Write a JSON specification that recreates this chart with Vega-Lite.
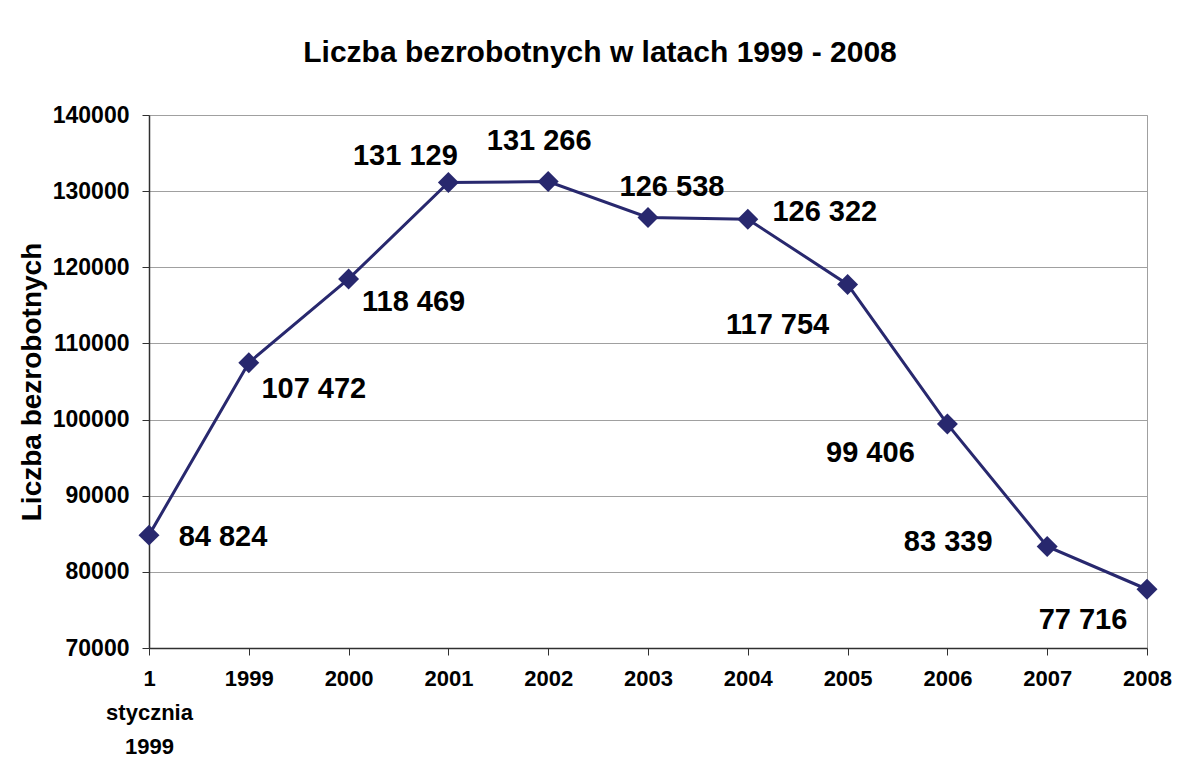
{
  "$schema": "https://vega.github.io/schema/vega-lite/v6.json",
  "width": 998,
  "height": 533,
  "autosize": {"type": "none"},
  "padding": {"left": 149, "top": 115, "right": 35, "bottom": 114},
  "background": "white",
  "config": {
    "font": "Liberation Sans",
    "view": {"stroke": "#a0a0a0", "strokeWidth": 1},
    "axis": {"labelFont": "Liberation Sans", "titleFont": "Liberation Sans"}
  },
  "title": {
    "text": "Liczba bezrobotnych w latach 1999 - 2008",
    "font": "Liberation Sans",
    "fontSize": 30,
    "fontWeight": "bold",
    "color": "black",
    "anchor": "middle",
    "frame": "group",
    "baseline": "alphabetic",
    "dx": -48,
    "offset": 12
  },
  "data": {
    "values": [
      {"okres": "1 stycznia 1999", "bezrobotni": 84824, "etykieta": "84 824"},
      {"okres": "1999", "bezrobotni": 107472, "etykieta": "107 472"},
      {"okres": "2000", "bezrobotni": 118469, "etykieta": "118 469"},
      {"okres": "2001", "bezrobotni": 131129, "etykieta": "131 129"},
      {"okres": "2002", "bezrobotni": 131266, "etykieta": "131 266"},
      {"okres": "2003", "bezrobotni": 126538, "etykieta": "126 538"},
      {"okres": "2004", "bezrobotni": 126322, "etykieta": "126 322"},
      {"okres": "2005", "bezrobotni": 117754, "etykieta": "117 754"},
      {"okres": "2006", "bezrobotni": 99406, "etykieta": "99 406"},
      {"okres": "2007", "bezrobotni": 83339, "etykieta": "83 339"},
      {"okres": "2008", "bezrobotni": 77716, "etykieta": "77 716"}
    ]
  },
  "encoding": {
    "x": {
      "field": "okres",
      "type": "ordinal",
      "sort": null,
      "scale": {"type": "point", "padding": 0},
      "axis": {
        "title": null,
        "labelAngle": 0,
        "labelFontSize": 22,
        "labelFontWeight": "bold",
        "labelColor": "black",
        "labelPadding": 13,
        "labelLineHeight": 34,
        "labelBaseline": "top",
        "labelExpr": "datum.value == '1 stycznia 1999' ? ['1', 'stycznia', '1999'] : datum.value",
        "tickSize": 7,
        "tickColor": "#303030",
        "domainColor": "#303030",
        "domainWidth": 1.5,
        "grid": false
      }
    },
    "y": {
      "field": "bezrobotni",
      "type": "quantitative",
      "scale": {"domain": [70000, 140000], "nice": false, "zero": false},
      "axis": {
        "title": "Liczba bezrobotnych",
        "titleFontSize": 28,
        "titleFontWeight": "bold",
        "titleColor": "black",
        "titlePadding": 6,
        "values": [70000, 80000, 90000, 100000, 110000, 120000, 130000, 140000],
        "format": "d",
        "labelFontSize": 23,
        "labelFontWeight": "bold",
        "labelColor": "black",
        "labelPadding": 13,
        "tickSize": 7,
        "tickColor": "#303030",
        "domainColor": "#303030",
        "domainWidth": 1.5,
        "gridColor": "#a0a0a0",
        "gridWidth": 1
      }
    }
  },
  "layer": [
    {"mark": {"type": "line", "color": "#28286e", "strokeWidth": 3}},
    {"mark": {"type": "point", "shape": "diamond", "filled": true, "color": "#28286e", "size": 440, "opacity": 1}},
    {"transform": [{"filter": "datum.okres == '1 stycznia 1999'"}], "mark": {"type": "text", "fontSize": 29, "fontWeight": "bold", "align": "center", "baseline": "middle", "dx": 74, "dy": 2}, "encoding": {"text": {"field": "etykieta"}}},
    {"transform": [{"filter": "datum.okres == '1999'"}], "mark": {"type": "text", "fontSize": 29, "fontWeight": "bold", "align": "center", "baseline": "middle", "dx": 65, "dy": 26}, "encoding": {"text": {"field": "etykieta"}}},
    {"transform": [{"filter": "datum.okres == '2000'"}], "mark": {"type": "text", "fontSize": 29, "fontWeight": "bold", "align": "center", "baseline": "middle", "dx": 65, "dy": 23}, "encoding": {"text": {"field": "etykieta"}}},
    {"transform": [{"filter": "datum.okres == '2001'"}], "mark": {"type": "text", "fontSize": 29, "fontWeight": "bold", "align": "center", "baseline": "middle", "dx": -43, "dy": -27}, "encoding": {"text": {"field": "etykieta"}}},
    {"transform": [{"filter": "datum.okres == '2002'"}], "mark": {"type": "text", "fontSize": 29, "fontWeight": "bold", "align": "center", "baseline": "middle", "dx": -9, "dy": -41}, "encoding": {"text": {"field": "etykieta"}}},
    {"transform": [{"filter": "datum.okres == '2003'"}], "mark": {"type": "text", "fontSize": 29, "fontWeight": "bold", "align": "center", "baseline": "middle", "dx": 24, "dy": -31}, "encoding": {"text": {"field": "etykieta"}}},
    {"transform": [{"filter": "datum.okres == '2004'"}], "mark": {"type": "text", "fontSize": 29, "fontWeight": "bold", "align": "center", "baseline": "middle", "dx": 77, "dy": -7}, "encoding": {"text": {"field": "etykieta"}}},
    {"transform": [{"filter": "datum.okres == '2005'"}], "mark": {"type": "text", "fontSize": 29, "fontWeight": "bold", "align": "center", "baseline": "middle", "dx": -70, "dy": 41}, "encoding": {"text": {"field": "etykieta"}}},
    {"transform": [{"filter": "datum.okres == '2006'"}], "mark": {"type": "text", "fontSize": 29, "fontWeight": "bold", "align": "center", "baseline": "middle", "dx": -77, "dy": 29}, "encoding": {"text": {"field": "etykieta"}}},
    {"transform": [{"filter": "datum.okres == '2007'"}], "mark": {"type": "text", "fontSize": 29, "fontWeight": "bold", "align": "center", "baseline": "middle", "dx": -99, "dy": -4}, "encoding": {"text": {"field": "etykieta"}}},
    {"transform": [{"filter": "datum.okres == '2008'"}], "mark": {"type": "text", "fontSize": 29, "fontWeight": "bold", "align": "center", "baseline": "middle", "dx": -64, "dy": 31}, "encoding": {"text": {"field": "etykieta"}}}
  ]
}
